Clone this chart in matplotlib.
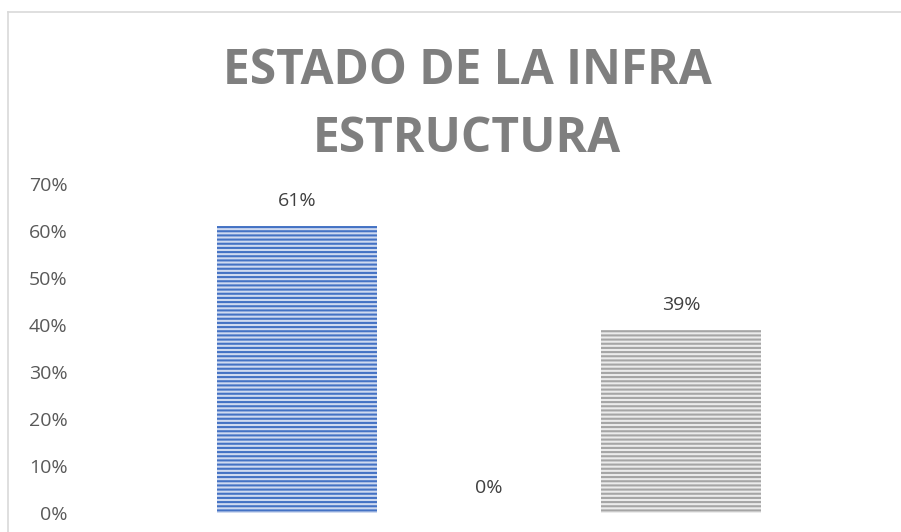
import matplotlib.pyplot as plt
from matplotlib.lines import Line2D
from matplotlib.ticker import PercentFormatter

plt.rcParams['font.family'] = ['Open Sans', 'DejaVu Sans']
plt.rcParams['hatch.linewidth'] = 1.5

# estado de la infraestructura
categorias = ['Bueno', 'Regular', 'Malo']
valores = [0.61, 0.0, 0.39]
etiquetas = ['61%', '0%', '39%']
titulo = ['ESTADO DE LA INFRA', 'ESTRUCTURA']
yticks = [0.0, 0.1, 0.2, 0.3, 0.4, 0.5, 0.6, 0.7]

fondo = ['#cfdaf0', '#cfdaf0', '#ebebeb']
rayas = ['#4472c4', '#4472c4', '#a5a5a5']

W, H = 901, 532
fig = plt.figure(figsize=(W / 100, H / 100), dpi=100)
fig.patch.set_facecolor('white')

# plot area in pixels
x0, x1, y0, y1 = 75, 890, 513, 184
ax = fig.add_axes([x0 / W, (H - y0) / H, (x1 - x0) / W, (y0 - y1) / H])

pos = list(range(len(categorias)))
bars = ax.bar(pos, valores, width=0.83, color=fondo, edgecolor=rayas,
              linewidth=0, hatch='----')

for b, txt in zip(bars, etiquetas):
    ax.annotate(txt, (b.get_x() + b.get_width() / 2, b.get_height()),
                xytext=(0, 18), textcoords='offset points',
                ha='center', va='center', fontsize=14, color='#404040')

# centres at 297/489/681 px, 192 px per category
ax.set_xlim((x0 - 297) / 192, (x1 - 297) / 192)
ax.set_ylim(0, 0.7)
ax.set_yticks(yticks)
ax.yaxis.set_major_formatter(PercentFormatter(1.0, decimals=0))
ax.tick_params(axis='y', length=0, pad=5.5, labelsize=14, labelcolor='#595959')
ax.set_xticks([])
for s in ax.spines.values():
    s.set_visible(False)

for i, line in enumerate(titulo):
    fig.text(467 / W, 1 - (84 + 68 * i) / H, line, ha='center', va='baseline',
             fontsize=34.5, fontweight='bold', color='#7f7f7f')

# chart border (top and left edges visible)
borde = dict(color='#d9d9d9', linewidth=1.2)
fig.add_artist(Line2D([8 / W, 1.0], [1 - 12 / H, 1 - 12 / H], **borde))
fig.add_artist(Line2D([8 / W, 8 / W], [0.0, 1 - 12 / H], **borde))

fig.savefig('out.png', dpi=100)
